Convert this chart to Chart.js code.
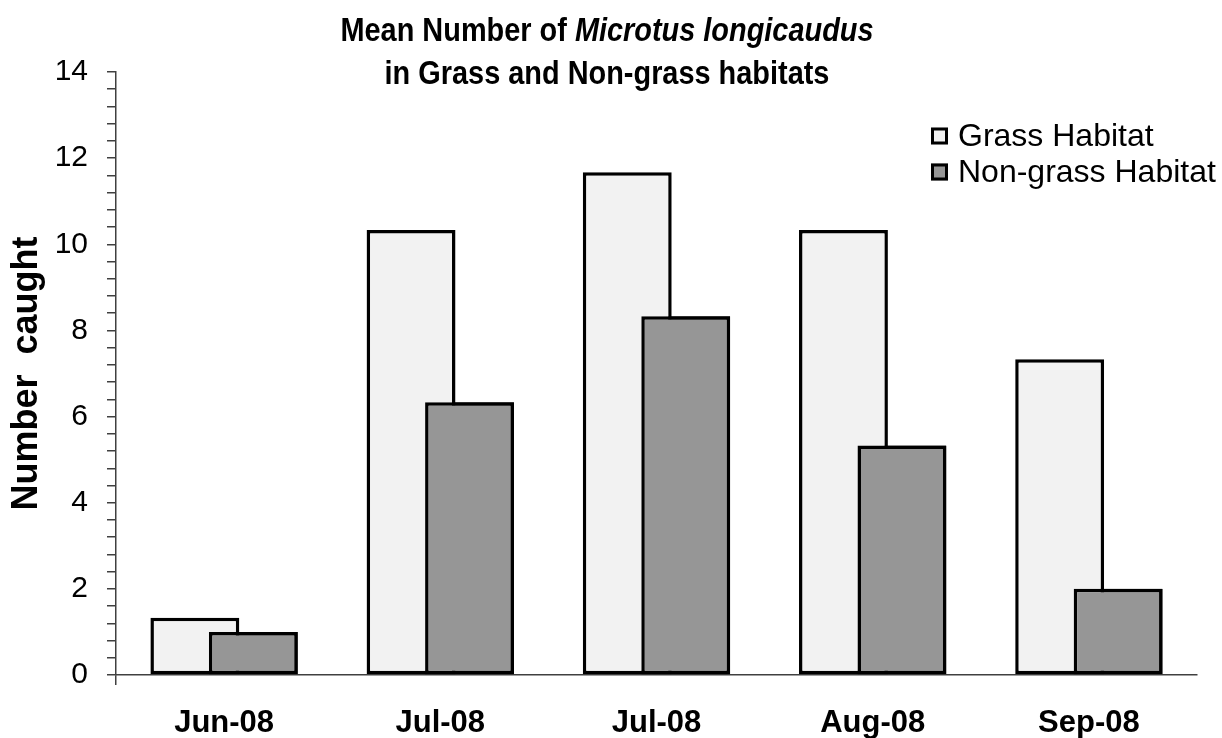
<!DOCTYPE html>
<html>
<head>
<meta charset="utf-8">
<title>Microtus longicaudus</title>
<script src="https://cdn.jsdelivr.net/npm/chart.js@4.4.0/dist/chart.umd.min.js"></script>
<style>
  html, body { margin: 0; padding: 0; background: #fff; }
</style>
</head>
<body>
<canvas id="grafico" width="1222" height="738"></canvas>
<script>
// datos
const months = ['Jun-08', 'Jul-08', 'Jul-08', 'Aug-08', 'Sep-08'];
const grassMean = [1.33, 10.33, 11.67, 10.33, 7.33];
const nonGrassMean = [1.0, 6.33, 8.33, 5.33, 2.0];
const yLabels = [0, 2, 4, 6, 8, 10, 12, 14];
const seriesNames = ['Grass Habitat', 'Non-grass Habitat'];
const titleStart = 'Mean Number of ';
const titleSpecies = 'Microtus longicaudus';
const titleEnd = 'in Grass and Non-grass habitats';
const yTitle = 'Number  caught';

const FONT = '"Liberation Sans", Arial, sans-serif';
const AXIS = '#404040';

// titulo en dos lineas con parte en cursiva
const titlePlugin = {
    id: 'mixedTitle',
    afterDraw(chart) {
        const ctx = chart.ctx;
        ctx.save();
        ctx.fillStyle = '#000';
        ctx.textBaseline = 'alphabetic';
        const parts = [
            { t: titleStart, f: 'bold 34px ' + FONT },
            { t: titleSpecies, f: 'italic bold 34px ' + FONT }
        ];
        let w = 0;
        parts.forEach(p => { ctx.font = p.f; p.w = ctx.measureText(p.t).width; w += p.w; });
        ctx.translate(607, 0);
        ctx.scale(0.85, 1);
        let x = -w / 2;
        parts.forEach(p => { ctx.font = p.f; ctx.textAlign = 'left'; ctx.fillText(p.t, x, 41); x += p.w; });
        ctx.font = 'bold 34px ' + FONT;
        ctx.textAlign = 'center';
        ctx.fillText(titleEnd, 0, 84);
        ctx.restore();
    }
};

// leyenda dentro del area del grafico
const legendPlugin = {
    id: 'innerLegend',
    afterDraw(chart) {
        const ctx = chart.ctx;
        const x0 = chart.chartArea.right - 266;
        const rows = [136, 172];
        ctx.save();
        chart.data.datasets.forEach((ds, i) => {
            const y = rows[i];
            ctx.fillStyle = ds.backgroundColor;
            ctx.fillRect(x0, y - 8.5, 17, 17);
            ctx.lineWidth = 3;
            ctx.strokeStyle = '#000';
            ctx.strokeRect(x0 + 1.5, y - 7, 14, 14);
            ctx.fillStyle = '#000';
            ctx.font = '32px ' + FONT;
            ctx.textBaseline = 'middle';
            ctx.fillText(ds.label, x0 + 27, y + 1);
        });
        ctx.restore();
    }
};

// la serie gris se dibuja encima de la clara
const frontPlugin = {
    id: 'nonGrassFront',
    afterDatasetsDraw(chart) {
        chart.getDatasetMeta(1).controller.draw();
    }
};

const ctx = document.getElementById('grafico');

new Chart(ctx, {
    type: 'bar',
    data: {
        labels: months,
        datasets: [{
            label: seriesNames[0],
            data: grassMean,
            backgroundColor: '#f2f2f2',
            borderColor: '#000',
            borderWidth: 3.5,
            borderSkipped: false,
            categoryPercentage: 0.541,
            barPercentage: 1.52
        }, {
            label: seriesNames[1],
            data: nonGrassMean,
            backgroundColor: '#969696',
            borderColor: '#000',
            borderWidth: 3.5,
            borderSkipped: false,
            categoryPercentage: 0.541,
            barPercentage: 1.52
        }]
    },
    options: {
        responsive: false,
        animation: false,
        layout: { padding: { top: 72, right: 25, bottom: 0, left: 0 } },
        plugins: {
            legend: { display: false },
            tooltip: { enabled: false },
            title: { display: false }
        },
        scales: {
            x: {
                afterFit: s => { s.height = 63; },
                border: { display: true, color: AXIS, width: 1.5 },
                grid: {
                    drawOnChartArea: false,
                    tickLength: 10,
                    lineWidth: 1.5,
                    color: c => c.index === 0 ? AXIS : 'rgba(0,0,0,0)'
                },
                ticks: {
                    color: '#000',
                    padding: 20,
                    font: { family: FONT, size: 31, weight: 'bold' }
                }
            },
            y: {
                min: 0,
                max: 14,
                afterFit: s => { s.width = 116; },
                border: { display: true, color: AXIS, width: 1.5 },
                grid: {
                    drawOnChartArea: false,
                    tickLength: 9,
                    lineWidth: 1.5,
                    color: AXIS
                },
                ticks: {
                    stepSize: 0.4,
                    autoSkip: false,
                    color: '#000',
                    padding: 19,
                    font: { family: FONT, size: 30 },
                    callback: v => yLabels.some(t => Math.abs(t - v) < 1e-6) ? Math.round(v) : ''
                },
                title: {
                    display: true,
                    text: yTitle,
                    color: '#000',
                    padding: { top: 5, bottom: 0 },
                    font: { family: FONT, size: 36, weight: 'bold' }
                }
            }
        }
    },
    plugins: [titlePlugin, legendPlugin, frontPlugin]
});
</script>
</body>
</html>
